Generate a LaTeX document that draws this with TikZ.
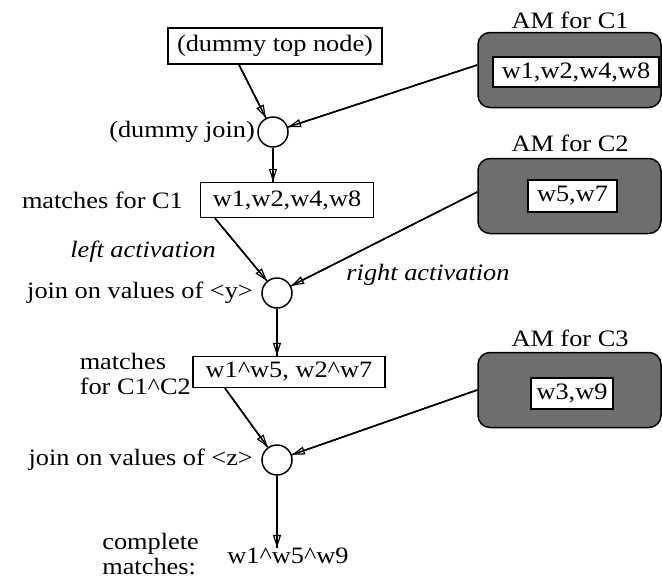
\documentclass[tikz,border=0pt]{standalone}
\usepackage{fontspec}
\setmainfont{Liberation Serif}[FakeStretch=1.12]
\usetikzlibrary{arrows.meta,calc}
\begin{document}
\begin{tikzpicture}[x=1pt,y=-1pt,
  every node/.style={font=\fontsize{23.5}{25}\selectfont},
  box/.style={draw,line width=1.5pt,inner sep=0pt,fill=white},
  joinnode/.style={draw,circle,line width=1.5pt,minimum size=30pt,inner sep=0pt},
  am/.style={draw,line width=1.5pt,fill=amgray,rounded corners=12pt,minimum width=183pt,minimum height=75pt},
  lbl/.style={inner sep=0pt},
  arr/.style={line width=1.5pt,-{Triangle[open,length=13pt,width=8pt,line width=1.2pt]},postaction={draw,arrows=-}}]
\definecolor{amgray}{HTML}{6E6E6E}
\useasboundingbox (0,0) rectangle (662,579);
% main column
\node[box,minimum width=214pt,minimum height=36pt] (top) at (275,46) {(dummy top node)};
\node[joinnode] (j0) at (273,132) {};
\node[lbl,anchor=east] (l0) at (255,132) {(dummy join)};
\node[box,minimum width=173pt,minimum height=35pt] (m1) at (287,200) {w1,w2,w4,w8};
\node[lbl,anchor=east] (l1) at (183,200) {matches for C1};
\node[lbl,font=\fontsize{23.5}{25}\selectfont\itshape] (la) at (143,252) {left activation};
\node[joinnode] (j1) at (277,293) {};
\node[lbl,anchor=east] (l2) at (253,293) {join on values of <y>};
\node[lbl,font=\fontsize{23.5}{25}\selectfont\itshape] (ra) at (428,275) {right activation};
\node[box,minimum width=192pt,minimum height=31pt] (m2) at (289,372) {w1\textasciicircum w5, w2\textasciicircum w7};
\node[lbl,anchor=east,align=left] (l3) at (191,374) {matches\\for C1\textasciicircum C2};
\node[joinnode] (j2) at (277,460) {};
\node[lbl,anchor=east] (l4) at (253,460) {join on values of <z>};
\node[lbl] (res) at (288,556) {w1\textasciicircum w5\textasciicircum w9};
\node[lbl,anchor=east,align=left] (l5) at (199,554) {complete\\matches:};
% alpha memories
\node[am] (am1) at (569.5,70) {};
\node[box,minimum width=166pt,minimum height=30pt] (am1i) at (576,72) {w1,w2,w4,w8};
\node[lbl] (am1l) at (570,20) {AM for C1};
\node[am] (am2) at (569.5,196) {};
\node[box,minimum width=89pt,minimum height=32pt] (am2i) at (572.5,196) {w5,w7};
\node[lbl] (am2l) at (570,143) {AM for C2};
\node[am] (am3) at (569.5,390) {};
\node[box,minimum width=82pt,minimum height=31pt] (am3i) at (572,393.5) {w3,w9};
\node[lbl] (am3l) at (570,338) {AM for C3};
% connectors
\draw[arr] ([xshift=-36pt]top.south) -- (j0);
\draw[arr] ([yshift=5pt]am1.west) -- (j0);
\draw[arr] (j0) -- (j0 |- m1.north);
\draw[arr] ([xshift=-72pt]m1.south) -- (j1);
\draw[arr] ([yshift=4pt]am2.west) -- (j1);
\draw[arr] (j1) -- (j1 |- m2.north);
\draw[arr] ([xshift=-64pt]m2.south) -- (j2);
\draw[arr] (am3.west) -- (j2);
\draw[arr] (j2) -- (j2 |- res.north);
\end{tikzpicture}
\end{document}
